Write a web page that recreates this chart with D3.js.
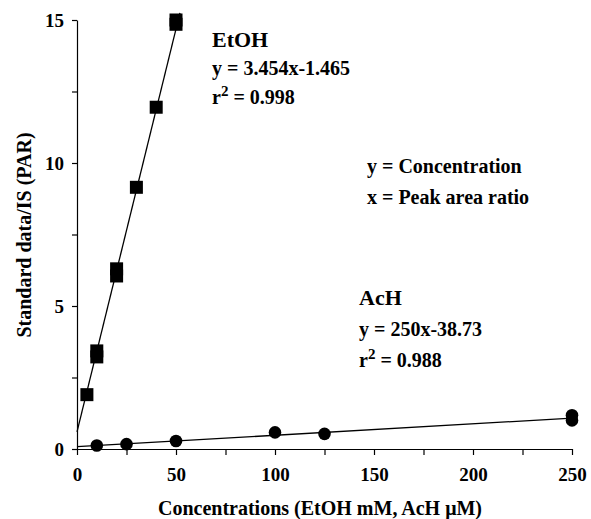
<!DOCTYPE html>
<html>
<head>
<meta charset="utf-8">
<script src="https://cdn.jsdelivr.net/npm/d3@7"></script>
<style>
  body { margin: 0; background: #fff; }
  svg { display: block; font-family: "Liberation Serif", "Times New Roman", serif; font-weight: bold; }
  .axis path, .axis line { stroke: #000; stroke-width: 1.2; }
  .axis text { font-size: 19px; font-weight: bold; fill: #000; font-family: "Liberation Serif", serif; }
</style>
</head>
<body>
<div id="chart"></div>
<script>
// EtOH standards (mM) vs peak area ratio
var etohConc = [5, 10, 10, 20, 20, 30, 40, 50, 50];
var etohPar  = [1.9, 3.22, 3.43, 6.05, 6.3, 9.15, 11.95, 14.85, 15.0];
// AcH standards (uM) vs peak area ratio
var achConc = [10, 25, 50, 100, 125, 250, 250];
var achPar  = [0.12, 0.17, 0.28, 0.58, 0.53, 1.18, 1.0];
// fitted lines
var etohFit = [[0, 0.6], [52, 15.25]];
var achFit  = [[0, 0.08], [250, 1.08]];

var xTicks = [0, 25, 50, 75, 100, 125, 150, 175, 200, 225, 250];
var yTicks = [0, 2.5, 5, 7.5, 10, 12.5, 15];

var width = 591, height = 519;
var margin = {top: 20, right: 19, bottom: 70, left: 77};

var svg = d3.select("#chart").append("svg")
    .attr("width", width)
    .attr("height", height);

var x = d3.scaleLinear()
    .domain([0, 250])
    .range([margin.left, width - margin.right]);

var y = d3.scaleLinear()
    .domain([0, 15])
    .range([height - margin.bottom, margin.top]);

var xaxis = svg.append("g")
    .attr("class", "x axis")
    .attr("transform", "translate(0," + y(0) + ")")
    .call(d3.axisBottom(x)
      .tickValues(xTicks)
      .tickSize(6)
      .tickSizeOuter(0)
      .tickFormat(function (d) { return d % 50 === 0 ? d : ""; }));
xaxis.selectAll("text").attr("dy", "1.2em");

var yaxis = svg.append("g")
    .attr("class", "y axis")
    .attr("transform", "translate(" + x(0) + ",0)")
    .call(d3.axisLeft(y)
      .tickValues(yTicks)
      .tickSize(5)
      .tickSizeOuter(0)
      .tickFormat(function (d) { return d % 5 === 0 ? d : ""; }));
yaxis.selectAll("text").attr("x", -13).attr("dy", "0.35em");

var line = d3.line()
    .x(function (d) { return x(d[0]); })
    .y(function (d) { return y(d[1]); });

svg.append("path")
    .attr("d", line(etohFit))
    .attr("fill", "none")
    .attr("stroke", "#000")
    .attr("stroke-width", 1.3);

svg.append("path")
    .attr("d", line(achFit))
    .attr("fill", "none")
    .attr("stroke", "#000")
    .attr("stroke-width", 1.3);

var sq = 13;
svg.append("g").selectAll("rect")
    .data(d3.zip(etohConc, etohPar))
  .enter().append("rect")
    .attr("x", function (d) { return x(d[0]) - sq / 2; })
    .attr("y", function (d) { return y(d[1]) - sq / 2; })
    .attr("width", sq)
    .attr("height", sq)
    .attr("fill", "#000");

svg.append("g").selectAll("circle")
    .data(d3.zip(achConc, achPar))
  .enter().append("circle")
    .attr("cx", function (d) { return x(d[0]); })
    .attr("cy", function (d) { return y(d[1]); })
    .attr("r", 6.3)
    .attr("fill", "#000");

// axis titles
svg.append("text")
    .attr("x", 320)
    .attr("y", 515)
    .attr("text-anchor", "middle")
    .style("font-size", "20px")
    .text("Concentrations (EtOH mM, AcH \u03BCM)");

svg.append("text")
    .attr("transform", "translate(31,235) rotate(-90)")
    .attr("text-anchor", "middle")
    .style("font-size", "20px")
    .text("Standard data/IS (PAR)");

// annotations
function note(tx, ty, size, txt, sup, rest) {
  var t = svg.append("text")
      .attr("x", tx)
      .attr("y", ty)
      .style("font-size", size + "px")
      .text(txt);
  if (sup) {
    t.append("tspan").attr("dy", -8).style("font-size", (size * 0.75) + "px").text(sup);
    t.append("tspan").attr("dy", 8).text(rest);
  }
}

note(212, 47, 22, "EtOH");
note(212, 75, 20, "y = 3.454x-1.465");
note(212, 104, 20, "r", "2", " = 0.998");

note(367, 173, 20, "y = Concentration");
note(367, 204, 20, "x = Peak area ratio");

note(359, 305, 22, "AcH");
note(359, 336, 20, "y = 250x-38.73");
note(359, 367, 20, "r", "2", " = 0.988");
</script>
</body>
</html>
